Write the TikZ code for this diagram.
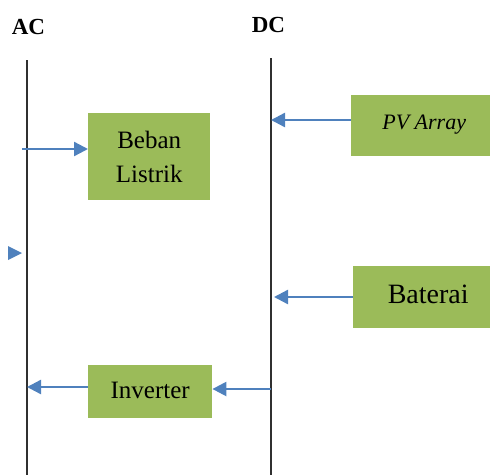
\documentclass[tikz,border=0pt]{standalone}
\usepackage{fontspec}
\setmainfont{Liberation Serif}
\usetikzlibrary{arrows.meta}
\definecolor{boxgreen}{HTML}{9BBB59}
\definecolor{arrowblue}{HTML}{4F81BD}
\definecolor{busgray}{HTML}{303030}
\begin{document}
\begin{tikzpicture}[x=1pt,y=-1pt,
  greenbox/.style={fill=boxgreen,draw=none,inner sep=0pt,align=center,font=\fontsize{25}{34}\selectfont},
  bus/.style={draw=busgray,line width=2.4pt},
  flow/.style={draw=arrowblue,line width=2.4pt,-{Triangle[length=14pt,width=14pt]}},
  lbl/.style={font=\bfseries\fontsize{23}{26}\selectfont,inner sep=0pt}]
\useasboundingbox (0,0) rectangle (490,475);
% labels
\node[lbl] (ac) at (28.5,27) {AC};
\node[lbl] (dc) at (268.5,25) {DC};
% buses
\coordinate (acT) at (27,60);
\coordinate (acB) at (27,475);
\coordinate (dcT) at (271,58);
\coordinate (dcB) at (271,475);
\draw[bus] (acT) -- (acB);
\draw[bus] (dcT) -- (dcB);
% boxes
\node[greenbox,minimum width=122pt,minimum height=87pt,anchor=north west] (beban) at (88,113) {Beban\\Listrik};
\node[greenbox,minimum width=140pt,minimum height=61pt,anchor=north west,font=\itshape\fontsize{22}{24}\selectfont] (pv) at (351,95) {\hspace*{6pt}\raisebox{7pt}{PV Array}};
\node[greenbox,minimum width=138pt,minimum height=62pt,anchor=north west,font=\fontsize{28}{30}\selectfont] (bat) at (353,266) {\hspace*{12pt}\raisebox{6pt}{Baterai}};
\node[greenbox,minimum width=124pt,minimum height=53pt,anchor=north west] (inv) at (88,365) {\raisebox{3pt}{Inverter}};
% connectors
\coordinate (bebanIn) at (22,149);
\coordinate (pvOut) at (271,120);
\coordinate (batOut) at (274,297);
\coordinate (invIn) at (271,389);
\coordinate (acIn) at (27,387);
\draw[flow] (bebanIn) -- (beban.west |- bebanIn);
\draw[flow] (pv.west |- pvOut) -- (pvOut);
\draw[flow] (bat.west |- batOut) -- (batOut);
\draw[flow] (invIn) -- (inv.east |- invIn);
\draw[flow] (inv.west |- acIn) -- (acIn);
% stray arrowhead
\fill[arrowblue] (8,246) -- (22,253) -- (8,260) -- cycle;
\end{tikzpicture}
\end{document}
